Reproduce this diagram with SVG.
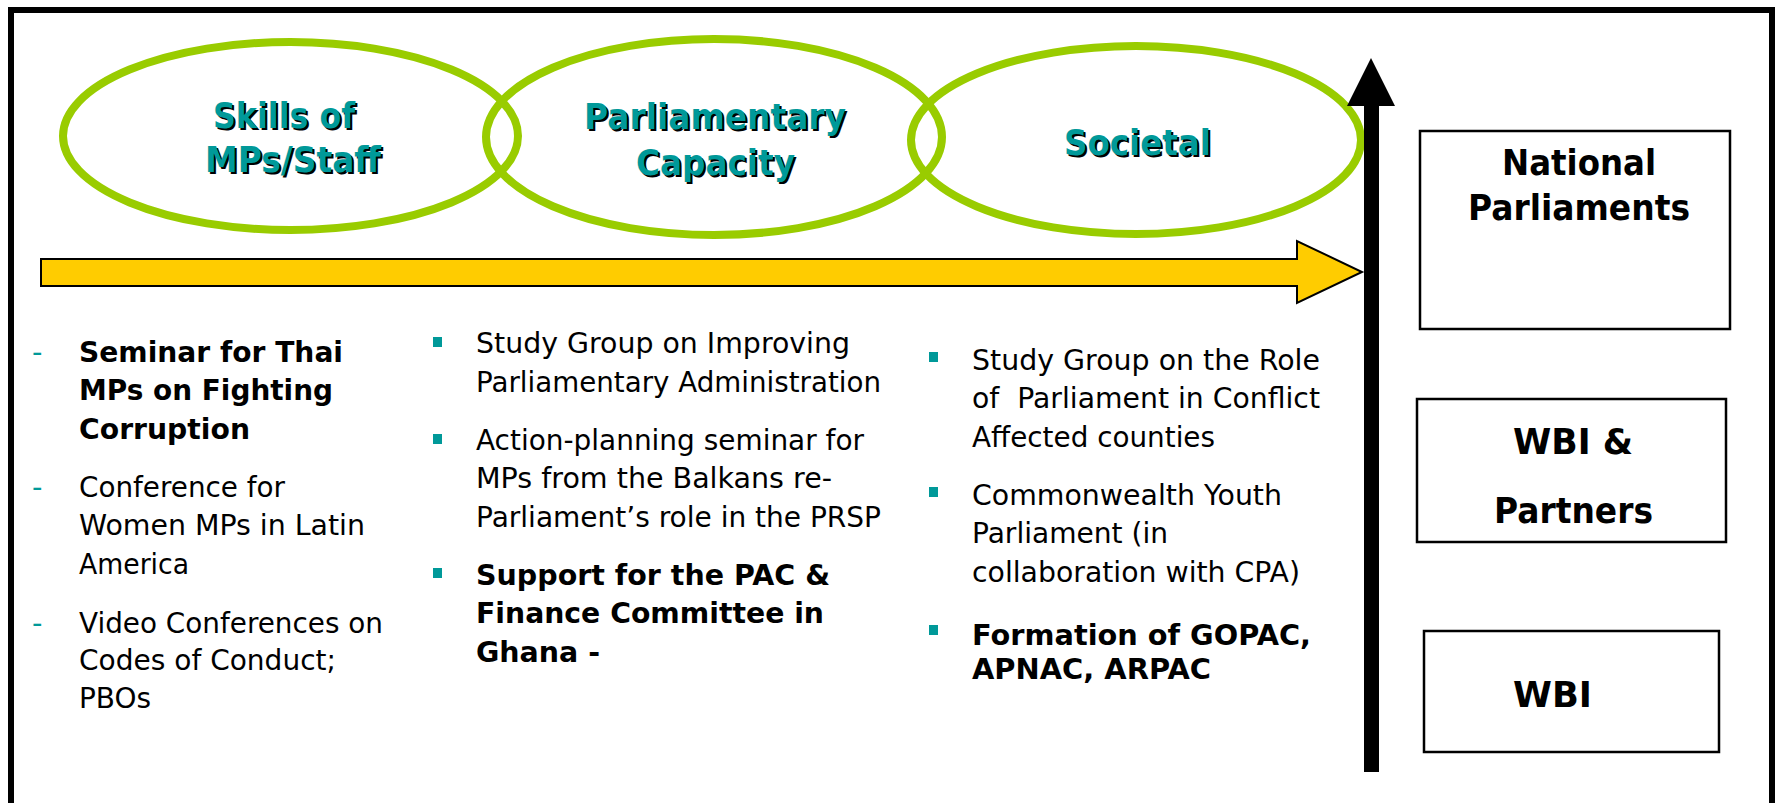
<svg xmlns="http://www.w3.org/2000/svg" width="1775" height="803" viewBox="0 0 1775 803">
<style>
.ell{fill:none;stroke:#99CC00;stroke-width:8}
.et{font-family:"DejaVu Sans","Liberation Sans",sans-serif;font-weight:bold;font-size:36px;text-anchor:start}
.sh{fill:#000}
.tl{fill:#009999}
.b{font-family:"DejaVu Sans","Liberation Sans",sans-serif;font-size:29px;fill:#000}
.bb{font-weight:bold}
.dash{font-family:"DejaVu Sans","Liberation Sans",sans-serif;font-size:29px;fill:#009999}
.sq{fill:#009999}
.box{fill:#fff;stroke:#000;stroke-width:2.5}
.bt{font-family:"DejaVu Sans","Liberation Sans",sans-serif;font-weight:bold;font-size:36px;fill:#000}
</style>
<rect x="0" y="0" width="1775" height="803" fill="#fff"/>
<rect x="11" y="10" width="1761" height="840" fill="none" stroke="#000" stroke-width="6"/>

<g id="ellipse-skills">
<ellipse class="ell" cx="290.5" cy="136" rx="227.5" ry="94"/>
<text class="et sh" x="215" y="130" textLength="142" lengthAdjust="spacingAndGlyphs">Skills of</text>
<text class="et tl" x="213" y="128" textLength="142" lengthAdjust="spacingAndGlyphs">Skills of</text>
<text class="et sh" x="207" y="174" textLength="176" lengthAdjust="spacingAndGlyphs">MPs/Staff</text>
<text class="et tl" x="205" y="172" textLength="176" lengthAdjust="spacingAndGlyphs">MPs/Staff</text>
</g>
<g id="ellipse-parliamentary">
<ellipse class="ell" cx="714" cy="137" rx="228" ry="98"/>
<text class="et sh" x="586" y="131" textLength="262" lengthAdjust="spacingAndGlyphs">Parliamentary</text>
<text class="et tl" x="584" y="129" textLength="262" lengthAdjust="spacingAndGlyphs">Parliamentary</text>
<text class="et sh" x="638" y="177" textLength="159" lengthAdjust="spacingAndGlyphs">Capacity</text>
<text class="et tl" x="636" y="175" textLength="159" lengthAdjust="spacingAndGlyphs">Capacity</text>
</g>
<g id="ellipse-societal">
<ellipse class="ell" cx="1136" cy="140" rx="225" ry="94"/>
<text class="et sh" x="1066" y="157" textLength="147" lengthAdjust="spacingAndGlyphs">Societal</text>
<text class="et tl" x="1064" y="155" textLength="147" lengthAdjust="spacingAndGlyphs">Societal</text>
</g>

<g id="connectors">
<polygon points="41,259 1297,259 1297,241 1362,272 1297,303 1297,286 41,286" fill="#FFCC00" stroke="#000" stroke-width="2"/>
<rect x="1364" y="104" width="15" height="668" fill="#000"/>
<polygon points="1371,58 1347,106 1395,106" fill="#000"/>
</g>

<g id="list-skills">
<text class="dash" x="32" y="362">-</text>
<text class="b bb" x="79" y="362" textLength="264" lengthAdjust="spacingAndGlyphs">Seminar for Thai</text>
<text class="b bb" x="79" y="400" textLength="254" lengthAdjust="spacingAndGlyphs">MPs on Fighting</text>
<text class="b bb" x="79" y="439" textLength="171" lengthAdjust="spacingAndGlyphs">Corruption</text>
<text class="dash" x="32" y="497">-</text>
<text class="b" x="79" y="497" textLength="206" lengthAdjust="spacingAndGlyphs">Conference for</text>
<text class="b" x="79" y="535" textLength="286" lengthAdjust="spacingAndGlyphs">Women MPs in Latin</text>
<text class="b" x="79" y="574" textLength="110" lengthAdjust="spacingAndGlyphs">America</text>
<text class="dash" x="32" y="633">-</text>
<text class="b" x="79" y="633" textLength="304" lengthAdjust="spacingAndGlyphs">Video Conferences on</text>
<text class="b" x="79" y="670" textLength="257" lengthAdjust="spacingAndGlyphs">Codes of Conduct;</text>
<text class="b" x="79" y="708" textLength="72" lengthAdjust="spacingAndGlyphs">PBOs</text>
</g>

<g id="list-parliamentary">
<rect class="sq" x="433" y="337" width="9" height="10"/>
<text class="b" x="476" y="353" textLength="374" lengthAdjust="spacingAndGlyphs">Study Group on Improving</text>
<text class="b" x="476" y="392" textLength="405" lengthAdjust="spacingAndGlyphs">Parliamentary Administration</text>
<rect class="sq" x="433" y="434" width="9" height="10"/>
<text class="b" x="476" y="450" textLength="388" lengthAdjust="spacingAndGlyphs">Action-planning seminar for</text>
<text class="b" x="476" y="488" textLength="356" lengthAdjust="spacingAndGlyphs">MPs from the Balkans re-</text>
<text class="b" x="476" y="527" textLength="405" lengthAdjust="spacingAndGlyphs">Parliament’s role in the PRSP</text>
<rect class="sq" x="433" y="568" width="9" height="10"/>
<text class="b bb" x="476" y="585" textLength="354" lengthAdjust="spacingAndGlyphs">Support for the PAC &amp;</text>
<text class="b bb" x="476" y="623" textLength="348" lengthAdjust="spacingAndGlyphs">Finance Committee in</text>
<text class="b bb" x="476" y="662" textLength="124" lengthAdjust="spacingAndGlyphs">Ghana -</text>
</g>

<g id="list-societal">
<rect class="sq" x="929" y="352" width="9" height="10"/>
<text class="b" x="972" y="370" textLength="348" lengthAdjust="spacingAndGlyphs">Study Group on the Role</text>
<text class="b" x="972" y="408" textLength="348" lengthAdjust="spacingAndGlyphs">of&#160; Parliament in Conflict</text>
<text class="b" x="972" y="447" textLength="243" lengthAdjust="spacingAndGlyphs">Affected counties</text>
<rect class="sq" x="929" y="487" width="9" height="10"/>
<text class="b" x="972" y="505" textLength="310" lengthAdjust="spacingAndGlyphs">Commonwealth Youth</text>
<text class="b" x="972" y="543" textLength="196" lengthAdjust="spacingAndGlyphs">Parliament (in</text>
<text class="b" x="972" y="582" textLength="328" lengthAdjust="spacingAndGlyphs">collaboration with CPA)</text>
<rect class="sq" x="929" y="625" width="9" height="10"/>
<text class="b bb" x="972" y="645" textLength="339" lengthAdjust="spacingAndGlyphs">Formation of GOPAC,</text>
<text class="b bb" x="972" y="679" textLength="239" lengthAdjust="spacingAndGlyphs">APNAC, ARPAC</text>
</g>

<g id="box-national">
<rect class="box" x="1420" y="131" width="310" height="198"/>
<text class="bt" x="1502" y="175" textLength="154" lengthAdjust="spacingAndGlyphs">National</text>
<text class="bt" x="1468" y="220" textLength="222" lengthAdjust="spacingAndGlyphs">Parliaments</text>
</g>
<g id="box-wbi-partners">
<rect class="box" x="1417" y="399" width="309" height="143"/>
<text class="bt" x="1513" y="454" textLength="120" lengthAdjust="spacingAndGlyphs">WBI &amp;</text>
<text class="bt" x="1494" y="523" textLength="159" lengthAdjust="spacingAndGlyphs">Partners</text>
</g>
<g id="box-wbi">
<rect class="box" x="1424" y="631" width="295" height="121"/>
<text class="bt" x="1513" y="707" textLength="79" lengthAdjust="spacingAndGlyphs">WBI</text>
</g>
</svg>
